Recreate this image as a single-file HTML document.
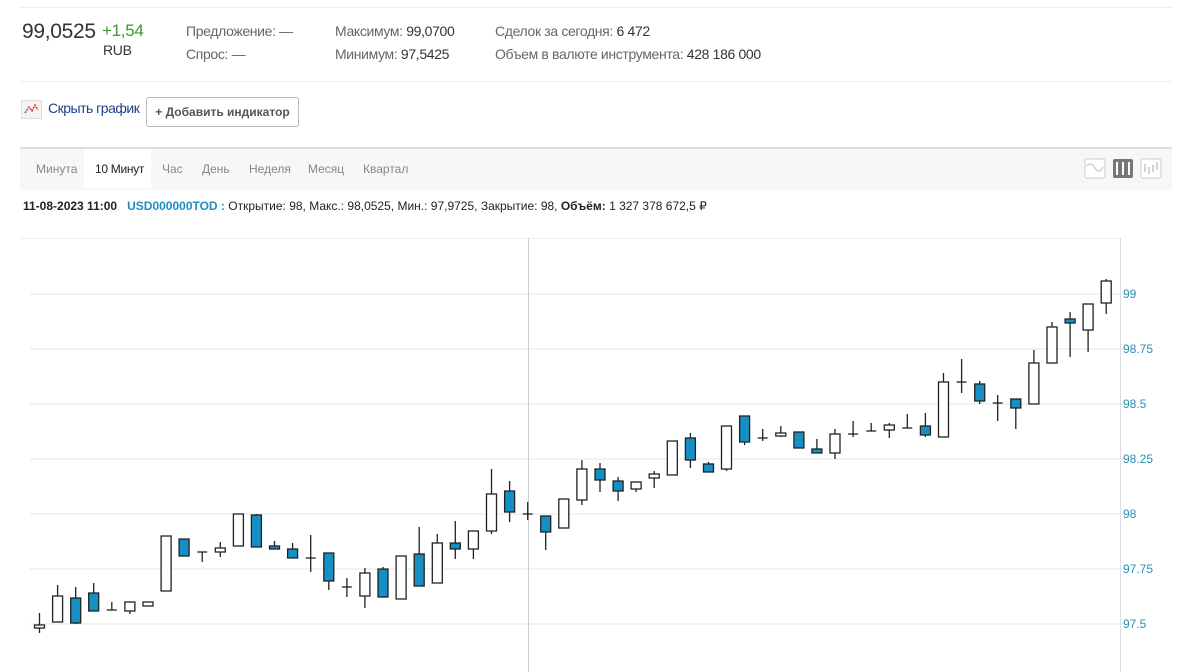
<!DOCTYPE html>
<html><head><meta charset="utf-8"><style>
body{margin:0;width:1200px;height:672px;background:#fff;font-family:"Liberation Sans",Arial,sans-serif;overflow:hidden;position:relative}
.a{position:absolute;white-space:nowrap}
.g{color:#666;font-size:14px;letter-spacing:-0.35px}
.v{color:#333;font-size:14px}
</style></head><body>
<div class="a" style="left:20px;top:7px;width:1152px;height:1px;background:#eee"></div>
<div class="a" style="left:22px;top:20px;font-size:21px;color:#333;letter-spacing:-0.3px">99,0525</div>
<div class="a" style="left:102px;top:21px;font-size:17px;color:#3a9b2a;letter-spacing:-0.3px">+1,54</div>
<div class="a" style="left:103px;top:42px;font-size:14px;color:#333;letter-spacing:-0.3px">RUB</div>
<div class="a g" style="left:186px;top:23px">Предложение: —</div>
<div class="a g" style="left:186px;top:46px">Спрос: —</div>
<div class="a g" style="left:335px;top:23px">Максимум: <span class="v">99,0700</span></div>
<div class="a g" style="left:335px;top:46px">Минимум: <span class="v">97,5425</span></div>
<div class="a g" style="left:495px;top:23px">Сделок за сегодня: <span class="v">6 472</span></div>
<div class="a g" style="left:495px;top:46px">Объем в валюте инструмента: <span class="v">428 186 000</span></div>
<div class="a" style="left:20px;top:81px;width:1152px;height:1px;background:#eee"></div>
<div class="a" style="left:21px;top:100px;width:19px;height:17px;background:#f3f3f3;border:1px solid #ddd"><svg width="19" height="17"><polyline points="3,12 7,6 10,10 13,4 16,9" fill="none" stroke="#d33" stroke-width="1.5" stroke-dasharray="2 1"/></svg></div>
<div class="a" style="left:48px;top:100px;font-size:14px;color:#1d3f8a;letter-spacing:-0.5px">Скрыть график</div>
<div class="a" style="left:146px;top:97px;width:151px;height:28px;border:1px solid #bbb;border-radius:3px;font-size:12px;font-weight:bold;color:#555;line-height:28px;text-align:center">+ Добавить индикатор</div>
<div class="a" style="left:20px;top:147px;width:1152px;height:41px;background:#f7f7f7;border-top:2px solid #ddd"></div>
<div class="a" style="left:84px;top:149px;width:67px;height:39px;background:#fff"></div>
<div class="a" style="left:36px;top:162px;font-size:12px;color:#888">Минута</div>
<div class="a" style="left:95px;top:162px;font-size:12px;color:#222;letter-spacing:-0.3px">10 Минут</div>
<div class="a" style="left:162px;top:162px;font-size:12px;color:#888">Час</div>
<div class="a" style="left:202px;top:162px;font-size:12px;color:#888">День</div>
<div class="a" style="left:249px;top:162px;font-size:12px;color:#888">Неделя</div>
<div class="a" style="left:308px;top:162px;font-size:12px;color:#888">Месяц</div>
<div class="a" style="left:363px;top:162px;font-size:12px;color:#888">Квартал</div>
<svg class="a" style="left:1080px;top:155px" width="90" height="28">
<rect x="5" y="4" width="20" height="19" rx="2" fill="#fff" stroke="#ccc"/><path d="M7 11 Q11 6 15 13 T23 12" fill="none" stroke="#bbb"/>
<rect x="33" y="4" width="20" height="19" rx="2" fill="#777"/><path d="M37 7v13M43 7v13M49 7v13" stroke="#fff" stroke-width="2"/>
<rect x="61" y="4" width="20" height="19" rx="2" fill="#fff" stroke="#ccc"/><path d="M65 9v8M69 12v7M73 10v7M77 7v8" stroke="#aaa"/>
</svg>
<div class="a" style="left:23px;top:199px;font-size:12px;color:#222"><b>11-08-2023 11:00</b> &nbsp; <span style="color:#1f8fc0;font-weight:bold">USD000000TOD :</span> Открытие: 98, Макс.: 98,0525, Мин.: 97,9725, Закрытие: 98, <b>Объём:</b> 1 327 378 672,5 ₽</div>
<svg class="a" style="left:0;top:0" width="1200" height="672">
<line x1="20" y1="238.5" x2="1120" y2="238.5" stroke="#eee"/>
<g stroke="#e6e6e6">
<line x1="30" y1="294" x2="1126" y2="294"/><line x1="30" y1="349" x2="1126" y2="349"/><line x1="30" y1="404" x2="1126" y2="404"/><line x1="30" y1="459" x2="1126" y2="459"/><line x1="30" y1="514" x2="1126" y2="514"/><line x1="30" y1="569" x2="1126" y2="569"/><line x1="30" y1="624" x2="1126" y2="624"/>
</g>
<line x1="1120.5" y1="238" x2="1120.5" y2="672" stroke="#d8dde6"/>
<line x1="528.5" y1="238" x2="528.5" y2="672" stroke="#ccc"/>
<g font-size="12" fill="#2a8fb5">
<text x="1123" y="298">99</text><text x="1123" y="353">98.75</text><text x="1123" y="408">98.5</text><text x="1123" y="463">98.25</text><text x="1123" y="518">98</text><text x="1123" y="573">97.75</text><text x="1123" y="628">97.5</text>
</g>
<g stroke="#222" stroke-width="1.3">
<line x1="39.5" y1="613" x2="39.5" y2="633"/><rect x="34.5" y="625" width="10" height="3" fill="#fff"/>
<line x1="57.6" y1="585" x2="57.6" y2="622"/><rect x="52.6" y="596" width="10" height="26" fill="#fff"/>
<line x1="75.7" y1="587" x2="75.7" y2="624"/><rect x="70.7" y="598" width="10" height="25" fill="#1490c4"/>
<line x1="93.7" y1="583" x2="93.7" y2="611"/><rect x="88.7" y="593" width="10" height="18" fill="#1490c4"/>
<line x1="111.8" y1="602" x2="111.8" y2="610"/><line x1="106.8" y1="610" x2="116.8" y2="610"/>
<line x1="129.9" y1="602" x2="129.9" y2="614"/><rect x="124.9" y="602" width="10" height="9" fill="#fff"/>
<rect x="143" y="602" width="10" height="4" fill="#fff"/>
<rect x="161.1" y="536" width="10" height="55" fill="#fff"/>
<line x1="184.1" y1="539" x2="184.1" y2="556"/><rect x="179.1" y="539" width="10" height="17" fill="#1490c4"/>
<line x1="202.2" y1="552" x2="202.2" y2="562"/><line x1="197.2" y1="552" x2="207.2" y2="552"/>
<line x1="220.3" y1="542" x2="220.3" y2="557"/><rect x="215.3" y="548" width="10" height="4" fill="#fff"/>
<rect x="233.4" y="514" width="10" height="32" fill="#fff"/>
<line x1="256.4" y1="514" x2="256.4" y2="547"/><rect x="251.4" y="515" width="10" height="32" fill="#1490c4"/>
<line x1="274.5" y1="541" x2="274.5" y2="549"/><rect x="269.5" y="546" width="10" height="3" fill="#1490c4"/>
<line x1="292.6" y1="543" x2="292.6" y2="558"/><rect x="287.6" y="549" width="10" height="9" fill="#1490c4"/>
<line x1="310.7" y1="535" x2="310.7" y2="572"/><line x1="305.7" y1="558" x2="315.7" y2="558"/>
<line x1="328.8" y1="553" x2="328.8" y2="590"/><rect x="323.8" y="553" width="10" height="28" fill="#1490c4"/>
<line x1="346.9" y1="578" x2="346.9" y2="597"/><line x1="341.9" y1="587" x2="351.9" y2="587"/>
<line x1="364.9" y1="568" x2="364.9" y2="608"/><rect x="359.9" y="573" width="10" height="23" fill="#fff"/>
<line x1="383" y1="567" x2="383" y2="597"/><rect x="378" y="569" width="10" height="28" fill="#1490c4"/>
<rect x="396.1" y="556" width="10" height="43" fill="#fff"/>
<line x1="419.2" y1="527" x2="419.2" y2="586"/><rect x="414.2" y="554" width="10" height="32" fill="#1490c4"/>
<line x1="437.3" y1="534" x2="437.3" y2="583"/><rect x="432.3" y="543" width="10" height="40" fill="#fff"/>
<line x1="455.3" y1="521" x2="455.3" y2="559"/><rect x="450.3" y="543" width="10" height="6" fill="#1490c4"/>
<line x1="473.4" y1="531" x2="473.4" y2="559"/><rect x="468.4" y="531" width="10" height="18" fill="#fff"/>
<line x1="491.5" y1="469" x2="491.5" y2="534"/><rect x="486.5" y="494" width="10" height="37" fill="#fff"/>
<line x1="509.6" y1="481" x2="509.6" y2="522"/><rect x="504.6" y="491" width="10" height="21" fill="#1490c4"/>
<line x1="527.7" y1="502" x2="527.7" y2="520"/><line x1="522.7" y1="514" x2="532.7" y2="514"/>
<line x1="545.7" y1="516" x2="545.7" y2="550"/><rect x="540.7" y="516" width="10" height="16" fill="#1490c4"/>
<rect x="558.8" y="499" width="10" height="29" fill="#fff"/>
<line x1="581.9" y1="460" x2="581.9" y2="505"/><rect x="576.9" y="469" width="10" height="31" fill="#fff"/>
<line x1="600" y1="463" x2="600" y2="492"/><rect x="595" y="469" width="10" height="11" fill="#1490c4"/>
<line x1="618.1" y1="477" x2="618.1" y2="501"/><rect x="613.1" y="481" width="10" height="10" fill="#1490c4"/>
<line x1="636.1" y1="482" x2="636.1" y2="492"/><rect x="631.1" y="482" width="10" height="7" fill="#fff"/>
<line x1="654.2" y1="471" x2="654.2" y2="488"/><rect x="649.2" y="474" width="10" height="4" fill="#fff"/>
<rect x="667.3" y="441" width="10" height="34" fill="#fff"/>
<line x1="690.4" y1="433" x2="690.4" y2="468"/><rect x="685.4" y="438" width="10" height="22" fill="#1490c4"/>
<line x1="708.5" y1="462" x2="708.5" y2="472"/><rect x="703.5" y="464" width="10" height="8" fill="#1490c4"/>
<line x1="726.5" y1="426" x2="726.5" y2="471"/><rect x="721.5" y="426" width="10" height="43" fill="#fff"/>
<line x1="744.6" y1="416" x2="744.6" y2="445"/><rect x="739.6" y="416" width="10" height="26" fill="#1490c4"/>
<line x1="762.7" y1="429" x2="762.7" y2="441"/><line x1="757.7" y1="438" x2="767.7" y2="438"/>
<line x1="780.8" y1="426" x2="780.8" y2="437"/><rect x="775.8" y="433" width="10" height="3" fill="#fff"/>
<rect x="793.9" y="432" width="10" height="16" fill="#1490c4"/>
<line x1="816.9" y1="439" x2="816.9" y2="453"/><rect x="811.9" y="449" width="10" height="4" fill="#1490c4"/>
<line x1="835" y1="429" x2="835" y2="459"/><rect x="830" y="434" width="10" height="19" fill="#fff"/>
<line x1="853.1" y1="421" x2="853.1" y2="437"/><line x1="848.1" y1="434" x2="858.1" y2="434"/>
<line x1="871.2" y1="423" x2="871.2" y2="431"/><line x1="866.2" y1="431" x2="876.2" y2="431"/>
<line x1="889.3" y1="423" x2="889.3" y2="438"/><rect x="884.3" y="425" width="10" height="5" fill="#fff"/>
<line x1="907.3" y1="414" x2="907.3" y2="428"/><line x1="902.3" y1="428" x2="912.3" y2="428"/>
<line x1="925.4" y1="413" x2="925.4" y2="437"/><rect x="920.4" y="426" width="10" height="9" fill="#1490c4"/>
<line x1="943.5" y1="373" x2="943.5" y2="437"/><rect x="938.5" y="382" width="10" height="55" fill="#fff"/>
<line x1="961.6" y1="359" x2="961.6" y2="393"/><line x1="956.6" y1="382" x2="966.6" y2="382"/>
<line x1="979.7" y1="381" x2="979.7" y2="404"/><rect x="974.7" y="384" width="10" height="17" fill="#1490c4"/>
<line x1="997.7" y1="395" x2="997.7" y2="421"/><line x1="992.7" y1="403" x2="1002.7" y2="403"/>
<line x1="1015.8" y1="399" x2="1015.8" y2="429"/><rect x="1010.8" y="399" width="10" height="9" fill="#1490c4"/>
<line x1="1033.9" y1="350" x2="1033.9" y2="404"/><rect x="1028.9" y="363" width="10" height="41" fill="#fff"/>
<line x1="1052" y1="322" x2="1052" y2="363"/><rect x="1047" y="327" width="10" height="36" fill="#fff"/>
<line x1="1070.1" y1="312" x2="1070.1" y2="357"/><rect x="1065.1" y="319" width="10" height="4" fill="#1490c4"/>
<line x1="1088.1" y1="304" x2="1088.1" y2="352"/><rect x="1083.1" y="304" width="10" height="26" fill="#fff"/>
<line x1="1106.2" y1="279" x2="1106.2" y2="314"/><rect x="1101.2" y="281" width="10" height="22" fill="#fff"/>
</g>
</svg>
</body></html>
